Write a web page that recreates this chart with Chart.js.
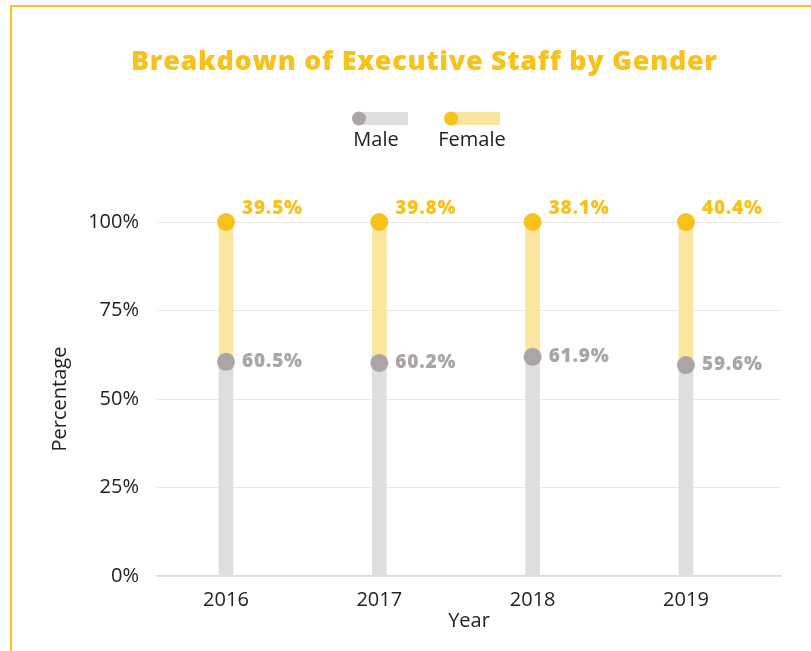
<!DOCTYPE html>
<html>
<head>
<meta charset="utf-8">
<script src="https://cdn.jsdelivr.net/npm/chart.js@4"></script>
<style>
html,body{margin:0;padding:0;background:#fff;}
#wrap{position:relative;width:811px;height:651px;}
#frame{position:absolute;left:10px;top:5px;right:0;bottom:0;border-top:2px solid #f8c21c;border-left:2px solid #f8c21c;}
canvas{position:absolute;left:0;top:0;}
</style>
</head>
<body>
<div id="wrap">
<div id="frame"></div>
<canvas id="myChart" width="811" height="651"></canvas>
</div>
<script>
var years=[2016,2017,2018,2019];
var male=[60.5,60.2,61.9,59.6];
var female=[39.5,39.8,38.1,40.4];
var yTicks=[0,25,50,75,100];

var YELLOW='#f8c21c', LIGHTYELLOW='#fce69f', GRAY='#aba6a6', LIGHTGRAY='#dfdddd';
var FONT='"Open Sans", sans-serif';

var total=[];
for(var i=0;i<years.length;i++){
total.push(male[i]+female[i]);
}

// draws text stretched to a given width with letter spacing
function spacedText(ctx,txt,x,y,width){
  ctx.letterSpacing='0px';
  var w=ctx.measureText(txt).width;
  var sp=(width-w)/(txt.length-1);
  ctx.letterSpacing=sp+'px';
  ctx.fillText(txt,x+sp/2,y);
  ctx.letterSpacing='0px';
}

// title + legend + value labels
var extras={
  id:'extras',
  afterDatasetsDraw:function(chart){
    var ctx=chart.ctx;
    ctx.save();
    ctx.textBaseline='middle';
    ctx.font='800 19px '+FONT;
    ctx.letterSpacing='0.8px';
    var mMeta=chart.getDatasetMeta(2);
    var fMeta=chart.getDatasetMeta(3);
    for(var i=0;i<years.length;i++){
      var pm=mMeta.data[i], pf=fMeta.data[i];
      ctx.textAlign='left';
      ctx.fillStyle=GRAY;
      ctx.fillText(male[i].toFixed(1)+'%',pm.x+16,pm.y);
      ctx.fillStyle=YELLOW;
      ctx.fillText(female[i].toFixed(1)+'%',pf.x+16,pf.y-13);
    }
    ctx.letterSpacing='0px';
    // title
    ctx.textAlign='center';
    ctx.fillStyle=YELLOW;
    ctx.font='800 27px '+FONT;
    spacedText(ctx,'Breakdown of Executive Staff by Gender',424,62,586);
    // legend
    var items=[{t:'Male',dot:GRAY,bar:LIGHTGRAY,x:359,tx:376},{t:'Female',dot:YELLOW,bar:LIGHTYELLOW,x:451,tx:472}];
    ctx.font='20px '+FONT;
    items.forEach(function(it){
      ctx.fillStyle=it.bar;
      ctx.fillRect(it.x,112,49,13);
      ctx.fillStyle=it.dot;
      ctx.beginPath();ctx.arc(it.x,118.5,7,0,Math.PI*2);ctx.fill();
      ctx.fillStyle='#222';
      ctx.fillText(it.t,it.tx,140);
    });
    ctx.restore();
  }
};

var chartContainer=document.getElementById('myChart');
var myChart=new Chart(chartContainer,{
  type:'bar',
  data:{
    labels:years,
    datasets:[
      {label:'Male',data:male,backgroundColor:LIGHTGRAY,stack:'bars',barThickness:14,order:2},
      {label:'Female',data:female,backgroundColor:LIGHTYELLOW,stack:'bars',barThickness:14,order:2},
      {type:'line',label:'Male dot',data:male,stack:'m',showLine:false,pointRadius:9,pointBorderWidth:0,
       pointBackgroundColor:GRAY,clip:false,order:1},
      {type:'line',label:'Female dot',data:total,stack:'f',showLine:false,pointRadius:9,pointBorderWidth:0,
       pointBackgroundColor:YELLOW,clip:false,order:0}
    ]
  },
  options:{
    responsive:false,
    animation:false,
    layout:{padding:{top:222,left:40,right:30,bottom:18}},
    plugins:{legend:{display:false},tooltip:{enabled:false},title:{display:false}},
    scales:{
      x:{
        type:'linear',
        offset:false,
        min:2015.55,max:2019.62,
        afterBuildTicks:function(s){s.ticks=years.map(function(v){return {value:v};});},
        afterFit:function(s){s.height=57;},
        grid:{display:false,offset:false},
        border:{display:true,color:'#dcdcdc',width:1.5},
        ticks:{padding:4,color:'#222',font:{family:FONT,size:20},callback:function(v){return String(v);}},
        title:{display:true,text:'Year',color:'#222',font:{family:FONT,size:20},padding:{top:9,bottom:0}}
      },
      y:{
        stacked:true,
        min:0,max:100,
        afterBuildTicks:function(s){s.ticks=yTicks.map(function(v){return {value:v};});},
        afterFit:function(s){s.width=117;},
        grid:{color:'#e8e8e8',drawTicks:false},
        border:{display:false},
        ticks:{padding:18,color:'#222',font:{family:FONT,size:20},callback:function(v){return v+'%';}},
        title:{display:true,text:'Percentage',color:'#222',font:{family:FONT,size:20},padding:{top:8,bottom:0}}
      }
    }
  },
  plugins:[extras]
});
</script>
</body>
</html>
